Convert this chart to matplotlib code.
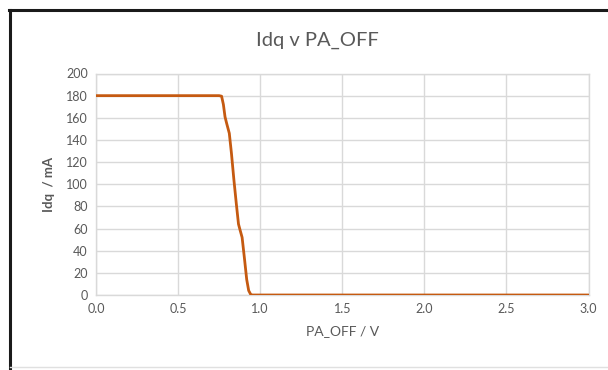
import matplotlib
matplotlib.use("Agg")
import matplotlib.pyplot as plt
from matplotlib.lines import Line2D

pa_off_v = [0.0, 0.50, 0.75, 0.765, 0.776, 0.786, 0.796, 0.812, 0.825, 0.84, 0.855, 0.868, 0.877, 0.89, 0.905, 0.918, 0.93, 0.942, 0.952, 1.5, 3.0]
idq_ma = [180, 180, 180, 179.5, 172, 160.8, 154.9, 146, 128, 104, 82, 64, 59, 52, 32, 14, 4, 0.6, 0, 0, 0]
x_ticks = [0.0, 0.5, 1.0, 1.5, 2.0, 2.5, 3.0]
y_ticks = [0, 20, 40, 60, 80, 100, 120, 140, 160, 180, 200]

plt.rcParams['font.family'] = ['Lato', 'DejaVu Sans']
W, H = 608, 370
fig = plt.figure(figsize=(W/100, H/100), dpi=100)
ax = fig.add_axes([96/W, 1-295/H, (588.5-96)/W, (295-73.5)/H])

ax.plot(pa_off_v, idq_ma, color='#c55a11', lw=2.0, solid_capstyle='round', solid_joinstyle='round', zorder=3)
ax.set_xlim(0, 3.0)
ax.set_ylim(0, 200)
ax.set_xticks(x_ticks)
ax.set_xticklabels([f"{v:.1f}" for v in x_ticks])
ax.set_yticks(y_ticks)
ax.grid(True, color='#d9d9d9', lw=1.0)
ax.set_axisbelow(True)
for s in ax.spines.values():
    s.set_color('#d9d9d9')
    s.set_linewidth(1.0)
ax.tick_params(length=0, labelsize=9, colors='#595959', pad=6)
ax.set_xlabel('PA_OFF / V', fontsize=10, color='#595959', labelpad=7)
ax.set_ylabel('Idq  / mA', fontsize=9.5, color='#595959', labelpad=8, fontweight='bold')
fig.text(317/W, 1-40/H, 'Idq v PA_OFF', ha='center', va='center', fontsize=14.5, color='#595959')

# outer frame
fig.add_artist(Line2D([9/W, 1], [1-10/H, 1-10/H], color='#1a1a1a', lw=2.2, transform=fig.transFigure))
fig.add_artist(Line2D([10/W, 10/W], [0, 1-10/H], color='#1a1a1a', lw=2.2, transform=fig.transFigure))
fig.add_artist(Line2D([10/W, 1], [1-367/H, 1-367/H], color='#e0e0e0', lw=1.0, transform=fig.transFigure))

fig.savefig('out.png', dpi=100, facecolor='white')
